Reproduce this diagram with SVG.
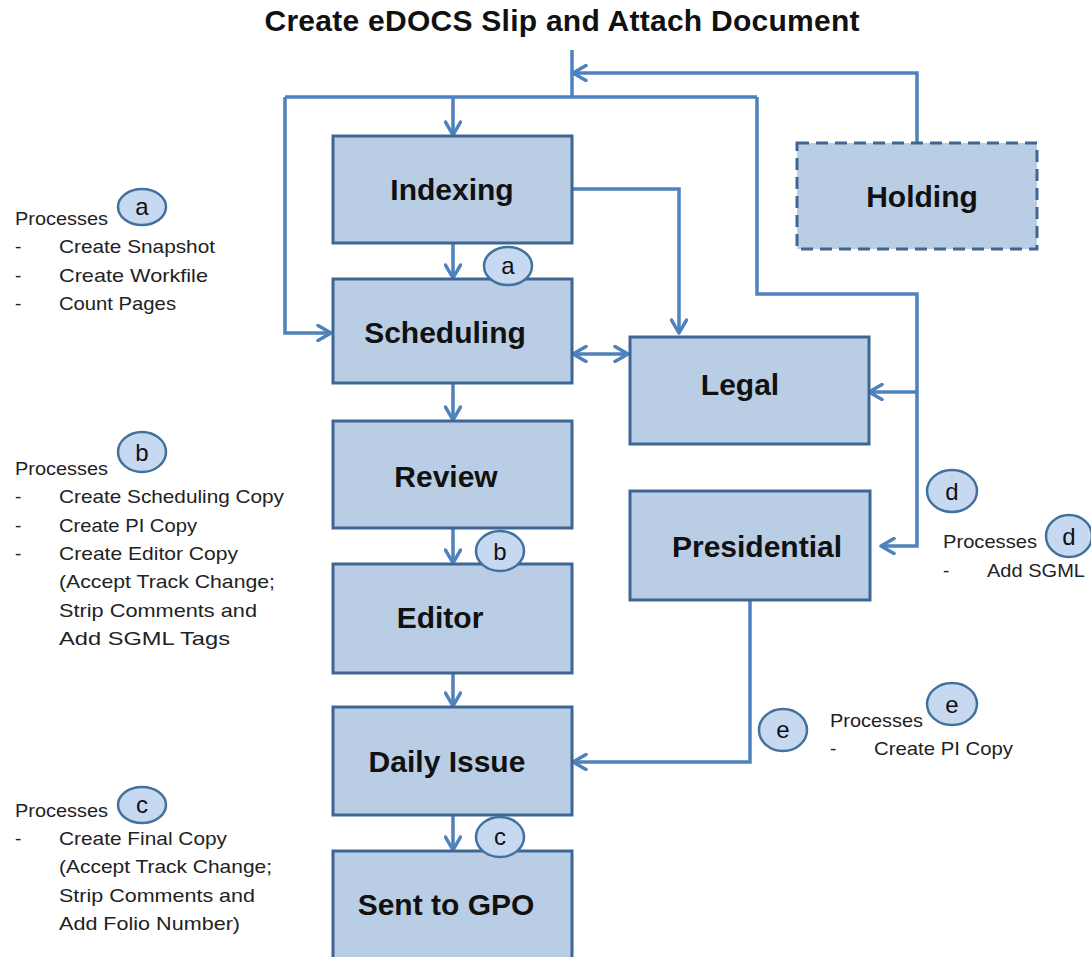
<svg xmlns="http://www.w3.org/2000/svg" width="1091" height="957" viewBox="0 0 1091 957">
<style>
.node{fill:#b9cde5;stroke:#3f6693;stroke-width:3}
.hold{fill:#b9cde5;stroke:#3f6693;stroke-width:3;stroke-dasharray:12 7}
.lbl{font-family:"Liberation Sans",Arial,sans-serif;font-weight:bold;font-size:30px;fill:#111;text-anchor:middle}
.title{font-family:"Liberation Sans",Arial,sans-serif;font-weight:bold;font-size:30px;fill:#111;text-anchor:middle}
.con{fill:none;stroke:#4f81bd;stroke-width:3.5}
.arr{marker-end:url(#ah)}
.circ{fill:#c6d9f1;stroke:#41719c;stroke-width:2.5}
.cl{font-family:"Liberation Sans",Arial,sans-serif;font-size:24px;fill:#111;text-anchor:middle}
.pt{font-family:"Liberation Sans",Arial,sans-serif;font-size:19px;fill:#222}
</style>
<defs>
<marker id="ah" markerUnits="userSpaceOnUse" markerWidth="18" markerHeight="18" viewBox="0 0 18 18" refX="16" refY="9" orient="auto-start-reverse">
<path d="M3,1.5 L16,9 L3,16.5" fill="none" stroke="#4f81bd" stroke-width="3.5" stroke-linecap="round" stroke-linejoin="round"/>
</marker>
</defs>
<rect width="1091" height="957" fill="#fff"/>
<text class="title" x="562" y="31" textLength="595">Create eDOCS Slip and Attach Document</text>

<g id="connectors">
<path class="con" d="M572,50 V97"/>
<path class="con" d="M285,97 H757"/>
<path class="con arr" d="M917,143 V73 H573"/>
<path class="con arr" d="M453,97 V135"/>
<path class="con arr" d="M285,97 V333 H331"/>
<path class="con arr" d="M757,97 V294 H917 V546 H881"/>
<path class="con arr" d="M917,392 H869"/>
<path class="con arr" d="M572,189 H679 V333"/>
<path class="con" d="M573,354 H628" marker-start="url(#ah)" marker-end="url(#ah)"/>
<path class="con arr" d="M453,243 V278"/>
<path class="con arr" d="M453,383 V420"/>
<path class="con arr" d="M453,528 V563"/>
<path class="con arr" d="M453,673 V706"/>
<path class="con arr" d="M453,815 V850"/>
<path class="con arr" d="M750,600 V762 H573"/>
</g>

<g id="indexing"><rect class="node" x="333" y="136" width="239" height="107"/><text class="lbl" x="452" y="200">Indexing</text></g>
<g id="scheduling"><rect class="node" x="333" y="279" width="239" height="104"/><text class="lbl" x="445" y="343">Scheduling</text></g>
<g id="review"><rect class="node" x="333" y="421" width="239" height="107"/><text class="lbl" x="446" y="487">Review</text></g>
<g id="editor"><rect class="node" x="333" y="564" width="239" height="109"/><text class="lbl" x="440" y="628">Editor</text></g>
<g id="daily-issue"><rect class="node" x="333" y="707" width="239" height="108"/><text class="lbl" x="447" y="772">Daily Issue</text></g>
<g id="sent-to-gpo"><rect class="node" x="333" y="851" width="239" height="120"/><text class="lbl" x="446" y="915">Sent to GPO</text></g>
<g id="legal"><rect class="node" x="630" y="337" width="239" height="107"/><text class="lbl" x="740" y="395">Legal</text></g>
<g id="presidential"><rect class="node" x="630" y="491" width="240" height="109"/><text class="lbl" x="757" y="557">Presidential</text></g>
<g id="holding"><rect class="hold" x="797" y="143" width="240" height="106"/><text class="lbl" x="922" y="207">Holding</text></g>

<g id="marker-a"><ellipse class="circ" cx="508" cy="266" rx="24" ry="19"/><text class="cl" x="508" y="274">a</text></g>
<g id="marker-b"><ellipse class="circ" cx="500" cy="551" rx="24" ry="20"/><text class="cl" x="500" y="560">b</text></g>
<g id="marker-c"><ellipse class="circ" cx="500" cy="837" rx="24" ry="20"/><text class="cl" x="500" y="845">c</text></g>
<g id="marker-d"><ellipse class="circ" cx="952" cy="491" rx="25" ry="21"/><text class="cl" x="952" y="500">d</text></g>
<g id="marker-e"><ellipse class="circ" cx="783" cy="730" rx="24" ry="21"/><text class="cl" x="783" y="738">e</text></g>

<g id="processes-a">
<text class="pt" x="15" y="225" textLength="93" lengthAdjust="spacingAndGlyphs">Processes</text>
<ellipse class="circ" cx="142" cy="207" rx="24" ry="18"/><text class="cl" x="142" y="215">a</text>
<text class="pt" x="15" y="253">-</text><text class="pt" x="59" y="253" textLength="156" lengthAdjust="spacingAndGlyphs">Create Snapshot</text>
<text class="pt" x="15" y="282">-</text><text class="pt" x="59" y="282" textLength="149" lengthAdjust="spacingAndGlyphs">Create Workfile</text>
<text class="pt" x="15" y="310">-</text><text class="pt" x="59" y="310" textLength="117" lengthAdjust="spacingAndGlyphs">Count Pages</text>
</g>
<g id="processes-b">
<text class="pt" x="15" y="475" textLength="93" lengthAdjust="spacingAndGlyphs">Processes</text>
<ellipse class="circ" cx="142" cy="452" rx="24" ry="20"/><text class="cl" x="142" y="461">b</text>
<text class="pt" x="15" y="503">-</text><text class="pt" x="59" y="503" textLength="225" lengthAdjust="spacingAndGlyphs">Create Scheduling Copy</text>
<text class="pt" x="15" y="532">-</text><text class="pt" x="59" y="532" textLength="138" lengthAdjust="spacingAndGlyphs">Create PI Copy</text>
<text class="pt" x="15" y="560">-</text><text class="pt" x="59" y="560" textLength="179" lengthAdjust="spacingAndGlyphs">Create Editor Copy</text>
<text class="pt" x="59" y="588" textLength="216" lengthAdjust="spacingAndGlyphs">(Accept Track Change;</text>
<text class="pt" x="59" y="617" textLength="198" lengthAdjust="spacingAndGlyphs">Strip Comments and</text>
<text class="pt" x="59" y="645" textLength="171" lengthAdjust="spacingAndGlyphs">Add SGML Tags</text>
</g>
<g id="processes-c">
<text class="pt" x="15" y="817" textLength="93" lengthAdjust="spacingAndGlyphs">Processes</text>
<ellipse class="circ" cx="142" cy="805" rx="24" ry="18"/><text class="cl" x="142" y="813">c</text>
<text class="pt" x="15" y="845">-</text><text class="pt" x="59" y="845" textLength="168" lengthAdjust="spacingAndGlyphs">Create Final Copy</text>
<text class="pt" x="59" y="873" textLength="213" lengthAdjust="spacingAndGlyphs">(Accept Track Change;</text>
<text class="pt" x="59" y="902" textLength="196" lengthAdjust="spacingAndGlyphs">Strip Comments and</text>
<text class="pt" x="59" y="930" textLength="181" lengthAdjust="spacingAndGlyphs">Add Folio Number)</text>
</g>
<g id="processes-d">
<text class="pt" x="943" y="548" textLength="94" lengthAdjust="spacingAndGlyphs">Processes</text>
<ellipse class="circ" cx="1069" cy="536" rx="23" ry="21"/><text class="cl" x="1069" y="545">d</text>
<text class="pt" x="943" y="577">-</text><text class="pt" x="987" y="577" textLength="98" lengthAdjust="spacingAndGlyphs">Add SGML</text>
</g>
<g id="processes-e">
<text class="pt" x="830" y="727" textLength="93" lengthAdjust="spacingAndGlyphs">Processes</text>
<ellipse class="circ" cx="952" cy="704" rx="25" ry="21"/><text class="cl" x="952" y="713">e</text>
<text class="pt" x="830" y="755">-</text><text class="pt" x="874" y="755" textLength="139" lengthAdjust="spacingAndGlyphs">Create PI Copy</text>
</g>
</svg>
